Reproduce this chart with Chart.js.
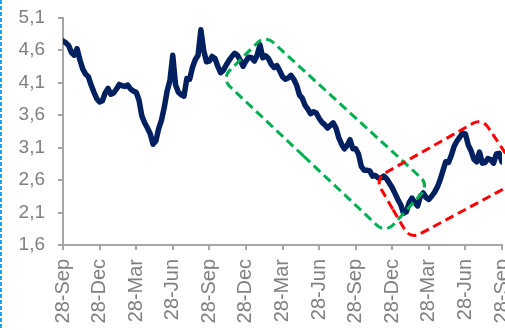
<!DOCTYPE html>
<html><head><meta charset="utf-8">
<script src="https://cdn.jsdelivr.net/npm/chart.js@4/dist/chart.umd.min.js"></script>
<style>
html,body{margin:0;padding:0;background:#fff;overflow:hidden;width:505px;height:330px;}
#wrap{position:relative;width:515px;height:330px;}
canvas{display:block;}
</style></head><body>
<div id="wrap"><canvas id="c" width="515" height="330"></canvas></div>
<script>
// Quarterly tick labels (every 13 weeks)
const tickLabels = ["28-Sep","28-Dec","28-Mar","28-Jun","28-Sep","28-Dec","28-Mar","28-Jun","28-Sep","28-Dec","28-Mar","28-Jun","28-Sep"];
const weeksPerTick = 13;
// Weekly series values
const values = [
4.74,4.71,4.67,4.56,4.52,4.62,4.45,4.31,4.23,4.19,
4.06,3.95,3.85,3.80,3.82,3.94,4.01,3.92,3.94,4.00,
4.07,4.05,4.04,4.06,4.00,3.97,3.95,3.83,3.59,3.48,
3.40,3.31,3.15,3.20,3.39,3.52,3.72,3.97,4.13,4.52,
4.06,3.95,3.91,3.89,4.16,4.15,4.33,4.45,4.52,4.91,
4.59,4.42,4.43,4.50,4.47,4.35,4.25,4.29,4.37,4.44,
4.50,4.55,4.52,4.44,4.35,4.43,4.49,4.48,4.43,4.52,
4.68,4.48,4.51,4.47,4.38,4.33,4.36,4.28,4.19,4.15,
4.17,4.21,4.15,4.06,3.91,3.86,3.75,3.69,3.62,3.65,
3.63,3.55,3.49,3.45,3.40,3.44,3.48,3.40,3.25,3.15,
3.08,3.13,3.22,3.08,3.08,3.00,2.81,2.75,2.75,2.74,
2.66,2.67,2.63,2.63,2.66,2.62,2.55,2.48,2.39,2.30,
2.22,2.09,2.11,2.25,2.32,2.25,2.20,2.35,2.40,2.33,
2.30,2.35,2.41,2.49,2.60,2.74,2.88,2.87,2.98,3.12,
3.20,3.26,3.32,3.31,3.14,3.05,2.92,2.88,3.03,2.86,
2.87,2.93,2.91,2.86,3.00,3.01,2.88
];
const yTicks = [1.6,2.1,2.6,3.1,3.6,4.1,4.6,5.1];
// Trend channel corners [week, value]
const greenBox = [[56.3,4.16],[71.8,4.83],[130.1,2.52],[114.6,1.78]];
const redBox = [[110.9,2.62],[148.9,3.55],[163.3,2.62],[123.4,1.69]];

const FONT = "'Liberation Sans', Arial, sans-serif";

function roundedPoly(ctx, pts, r){
  const n = pts.length;
  const mx = (pts[n-1][0]+pts[0][0])/2, my = (pts[n-1][1]+pts[0][1])/2;
  ctx.beginPath();
  ctx.moveTo(mx,my);
  for(let i=0;i<n;i++){
    const p = pts[i], q = pts[(i+1)%n];
    ctx.arcTo(p[0],p[1],q[0],q[1],r);
  }
  ctx.closePath();
}

const boxesPlugin = {
  id:'boxes',
  afterDatasetsDraw(chart){
    const ctx = chart.ctx, xs = chart.scales.x, ys = chart.scales.y;
    const draw = (box,color)=>{
      const pts = box.map(([w,v])=>[xs.getPixelForValue(w), ys.getPixelForValue(v)]);
      ctx.save();
      ctx.strokeStyle = color; ctx.lineWidth = 3; ctx.setLineDash([9,5]);
      roundedPoly(ctx, pts, 11);
      ctx.stroke();
      ctx.restore();
    };
    draw(greenBox,'#00b050');
    draw(redBox,'#ff0000');
  },
  afterDraw(chart){
    const ctx = chart.ctx;
    ctx.save();
    ctx.strokeStyle = '#1fa5e6'; ctx.lineWidth = 2; ctx.setLineDash([4,2]);
    ctx.beginPath(); ctx.moveTo(1,0); ctx.lineTo(1,chart.height); ctx.stroke();
    ctx.restore();
  }
};

new Chart(document.getElementById('c'), {
  type:'line',
  data:{datasets:[{
    data: values.map((v,i)=>({x:i,y:v})),
    borderColor:'#002060', borderWidth:5.5, pointRadius:0, tension:0,
    borderJoinStyle:'round', borderCapStyle:'round', fill:false
  }]},
  options:{
    responsive:false, animation:false, events:[],
    layout:{padding:{top:17.5,right:13,left:0,bottom:0}},
    plugins:{legend:{display:false},tooltip:{enabled:false}},
    scales:{
      x:{type:'linear', min:0, max:(tickLabels.length-1)*weeksPerTick,
        afterBuildTicks:(a)=>{a.ticks = tickLabels.map((l,i)=>({value:i*weeksPerTick}));},
        afterFit:(s)=>{s.height = 85; s.paddingLeft = 0; s.paddingRight = 0;},
        ticks:{autoSkip:false,minRotation:90,maxRotation:90,padding:9,color:'#808080',
          font:{family:FONT,size:20},
          callback:(v)=>tickLabels[Math.round(v/weeksPerTick)]},
        grid:{drawOnChartArea:false,drawTicks:true,tickLength:5,color:'#a6a6a6',lineWidth:2},
        border:{color:'#a6a6a6',width:2}
      },
      y:{min:1.6,max:5.1,
        afterBuildTicks:(a)=>{a.ticks = yTicks.map(v=>({value:v}));},
        afterFit:(s)=>{s.width = 63; s.paddingTop = 0; s.paddingBottom = 0;},
        ticks:{padding:13,color:'#808080',font:{family:FONT,size:19},
          callback:(v)=>v.toFixed(1).replace('.',',')},
        grid:{drawOnChartArea:false,drawTicks:true,tickLength:5,color:'#a6a6a6',lineWidth:2},
        border:{color:'#a6a6a6',width:2}
      }
    }
  },
  plugins:[boxesPlugin]
});
</script>
</body></html>
